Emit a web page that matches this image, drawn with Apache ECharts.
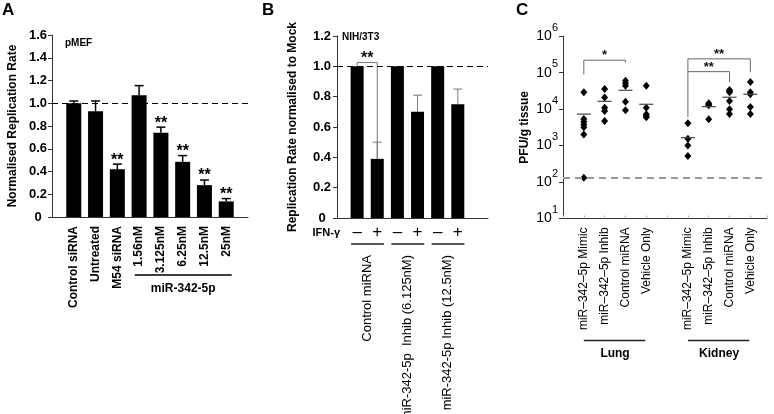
<!DOCTYPE html>
<html><head><meta charset="utf-8">
<script src="https://cdn.jsdelivr.net/npm/echarts@6/dist/echarts.min.js"></script>
<style>html,body{margin:0;padding:0;background:#fff}#c{width:774px;height:414px}</style>
</head><body><div id="c"></div>
<script>
// ---------- Panel A data ----------
const catsA = ['Control siRNA', 'Untreated', 'M54 siRNA', '1.56nM', '3.125nM', '6.25nM', '12.5nM', '25nM'];
const valsA = [1.0, 0.93, 0.42, 1.07, 0.74, 0.485, 0.28, 0.137];
const errA = [0.02, 0.09, 0.045, 0.085, 0.05, 0.055, 0.045, 0.025];
const starsA = ['', '', '**', '', '**', '**', '**', '**'];
const groupA = { label: 'miR-342-5p', first: 4, last: 8 };
const refLineA = 1.0;

// ---------- Panel B data ----------
const signsB = ['\u2013', '+', '\u2013', '+', '\u2013', '+'];
const valsB = [1.0, 0.39, 1.0, 0.70, 1.0, 0.75];
const errB = [0, 0.11, 0, 0.11, 0, 0.10];
const pairsB = ['Control miRNA', 'miR-342-5p  Inhib (6.125nM)', 'miR-342-5p Inhib (12.5nM)'];
const bracketB = { from: 1, to: 2, level: 1.025, stars: '**' };
const refLineB = 1.0;

// ---------- Panel C data ----------
const catsC = ['miR\u2013342\u20135p Mimic', 'miR\u2013342\u20135p Inhib', 'Control miRNA', 'Vehicle Only',
               'miR\u2013342\u20135p Mimic', 'miR\u2013342\u20135p Inhib', 'Control miRNA', 'Vehicle Only'];
const posC = [1, 2, 3, 4, 6, 7, 8, 9];
const lungMimic = [29000, 5400, 4500, 3800, 3200, 2000, 130];
const lungInhib = [36000, 21000, 11000, 8900, 4700];
const lungControl = [60000, 51000, 44000, 16000, 9300];
const lungVehicle = [44000, 11000, 7200, 6500, 6000];
const kidneyMimic = [4100, 1550, 1000, 520];
const kidneyInhib = [14500, 13500, 12800, 5300];
const kidneyControl = [33600, 31000, 29000, 16700, 9900, 7400];
const kidneyVehicle = [55700, 29000, 25600, 11500, 7400];
const pointsC = [lungMimic, lungInhib, lungControl, lungVehicle, kidneyMimic, kidneyInhib, kidneyControl, kidneyVehicle];
const meansC = [7300, 16400, 33000, 13600, 1650, 11700, 21200, 25600];
const groupsC = [{ label: 'Lung', first: 1, last: 4 }, { label: 'Kidney', first: 6, last: 9 }];
const bracketsC = [
  { from: 1, to: 3, top: 2.2e5, leftEnd: 9.0e4, rightEnd: 1.9e5, stars: '*' },
  { from: 6, to: 9, top: 2.4e5, leftEnd: 6.0e3, rightEnd: 1.03e5, stars: '**' },
  { from: 6, to: 8, top: 1.07e5, leftEnd: 1.07e5, rightEnd: 5.5e4, stars: '**' }
];
const detectionLimitC = 130;

// ---------- rendering ----------
const FONT = 'Liberation Sans, Arial, sans-serif';
const chart = echarts.init(document.getElementById('c'), null, { renderer: 'canvas' });

function errBarRender(color, width) {
  return function (params, api) {
    const x = api.value(0), lo = api.value(1), hi = api.value(2);
    if (!(hi > lo)) return null;
    const b = api.coord([x, lo]), t = api.coord([x, hi]);
    return { type: 'group', children: [
      { type: 'line', shape: { x1: b[0], y1: b[1], x2: t[0], y2: t[1] }, style: { stroke: color, lineWidth: width } },
      { type: 'line', shape: { x1: t[0] - 4.5, y1: t[1], x2: t[0] + 4.5, y2: t[1] }, style: { stroke: color, lineWidth: width } }
    ] };
  };
}
function starRender(labels, size, weight, color, dy) {
  return function (params, api) {
    const s = labels[params.dataIndex];
    if (!s) return null;
    const p = api.coord([api.value(0), api.value(1)]);
    return { type: 'text', x: p[0], y: p[1] + dy,
      style: { text: s, fontSize: size, fontWeight: weight, fontFamily: FONT, fill: color, align: 'center', verticalAlign: 'middle' } };
  };
}
function bracketRender(color, labels, starSize, starDy) {
  return function (params, api) {
    const x1 = api.value(0), x2 = api.value(1), top = api.value(2), le = api.value(3), re = api.value(4);
    const a = api.coord([x1, le]), b = api.coord([x1, top]), c = api.coord([x2, top]), d = api.coord([x2, re]);
    const m = api.coord([(x1 + x2) / 2, top]);
    return { type: 'group', children: [
      { type: 'polyline', shape: { points: [a, b, c, d] }, style: { stroke: color, lineWidth: 1, fill: null } },
      { type: 'text', x: m[0], y: m[1] + starDy, style: { text: labels[params.dataIndex], fontSize: starSize, fontWeight: 'bold', fontFamily: FONT, fill: '#111', align: 'center', verticalAlign: 'middle' } }
    ] };
  };
}

const axisLineStyle = { show: true, lineStyle: { color: '#333', width: 1 } };
const baseY = {
  type: 'value', splitLine: { show: false },
  axisLine: axisLineStyle,
  axisTick: { show: true, length: 4, lineStyle: { color: '#333' } },
  nameLocation: 'middle', nameRotate: 90,
  nameTextStyle: { fontSize: 12, fontWeight: 'bold', fontFamily: FONT, color: '#000' }
};

const scatterData = [];
pointsC.forEach((arr, i) => arr.forEach(v => scatterData.push([posC[i], v])));

const option = {
  animation: false,
  backgroundColor: '#fff',
  textStyle: { fontFamily: FONT },
  grid: [
    { left: 52, top: 35, width: 196, height: 182, outerBoundsMode: 'none', containLabel: false },
    { left: 337, top: 36, width: 151, height: 182, outerBoundsMode: 'none', containLabel: false },
    { left: 563, top: 36.3, width: 204, height: 182.1, outerBoundsMode: 'none', containLabel: false }
  ],
  xAxis: [
    { gridIndex: 0, type: 'value', min: 0, max: 9, interval: 1, splitLine: { show: false },
      axisLine: axisLineStyle, axisTick: { show: false },
      axisLabel: { rotate: 90, margin: 9, fontSize: 12, fontWeight: 'bold', color: '#000', fontFamily: FONT,
        formatter: v => (Number.isInteger(v) && catsA[v - 1]) ? catsA[v - 1] : '' } },
    { gridIndex: 1, type: 'value', min: 0, max: 7.5, interval: 0.5, splitLine: { show: false },
      axisLine: axisLineStyle, axisTick: { show: false },
      axisLabel: { margin: 6, fontSize: 17, color: '#000', fontFamily: FONT,
        formatter: v => (Number.isInteger(v) && signsB[v - 1]) ? signsB[v - 1] : '' } },
    { gridIndex: 2, type: 'value', min: 0, max: 9.8, interval: 1, splitLine: { show: false },
      axisLine: axisLineStyle, axisTick: { show: true, inside: true, length: 3, lineStyle: { color: '#bbb' } },
      axisLabel: { rotate: 90, margin: 9, fontSize: 12, color: '#000', fontFamily: FONT,
        formatter: v => { const i = posC.indexOf(v); return i >= 0 ? catsC[i] : ''; } } }
  ],
  yAxis: [
    Object.assign({}, baseY, { gridIndex: 0, min: 0, max: 1.6, interval: 0.2,
      name: 'Normalised Replication Rate', nameGap: 33,
      axisLabel: { fontSize: 13, fontWeight: 'bold', color: '#000', fontFamily: FONT, align: 'center', margin: 14,
        formatter: v => v === 0 ? '0' : v.toFixed(1) } }),
    Object.assign({}, baseY, { gridIndex: 1, min: 0, max: 1.2, interval: 0.2,
      name: 'Replication Rate normalised to Mock', nameGap: 38,
      axisLabel: { fontSize: 13, fontWeight: 'bold', color: '#000', fontFamily: FONT, align: 'center', margin: 15,
        formatter: v => v === 0 ? '0' : v.toFixed(1) } }),
    Object.assign({}, baseY, { gridIndex: 2, type: 'log', logBase: 10, min: 10, max: 1e6,
      name: 'PFU/g tissue', nameGap: 32,
      axisLabel: { margin: 5, color: '#000', fontFamily: FONT,
        formatter: v => '{b|10}{s|' + Math.round(Math.log10(v)) + '}',
        rich: { b: { fontSize: 14, color: '#000', fontFamily: FONT }, s: { fontSize: 11, color: '#000', fontFamily: FONT, padding: [0, 0, 17, 0] } } } })
  ],
  series: [
    // Panel A
    { type: 'bar', xAxisIndex: 0, yAxisIndex: 0, barWidth: 15, itemStyle: { color: '#000' },
      data: valsA.map((v, i) => [i + 1, v]),
      markLine: { silent: true, symbol: 'none', label: { show: false },
        lineStyle: { color: '#000', type: [6, 4], width: 1 }, data: [{ yAxis: refLineA }] } },
    { type: 'custom', xAxisIndex: 0, yAxisIndex: 0, z: 3, renderItem: errBarRender('#000', 1.5),
      data: valsA.map((v, i) => [i + 1, v, v + errA[i]]) },
    { type: 'custom', xAxisIndex: 0, yAxisIndex: 0, z: 4, renderItem: starRender(starsA, 16, 'bold', '#000', -4),
      data: valsA.map((v, i) => [i + 1, v + errA[i]]) },
    // Panel B
    { type: 'bar', xAxisIndex: 1, yAxisIndex: 1, barWidth: 13, itemStyle: { color: '#000' },
      data: valsB.map((v, i) => [i + 1, v]),
      markLine: { silent: true, symbol: 'none', label: { show: false },
        lineStyle: { color: '#000', type: [6, 4], width: 1 }, data: [{ yAxis: refLineB }] } },
    { type: 'custom', xAxisIndex: 1, yAxisIndex: 1, z: 3, renderItem: errBarRender('#777', 1),
      data: valsB.map((v, i) => [i + 1, v, v + errB[i]]) },
    { type: 'custom', xAxisIndex: 1, yAxisIndex: 1, z: 3, renderItem: bracketRender('#777', [bracketB.stars], 16, -4),
      data: [[bracketB.from, bracketB.to, bracketB.level, valsB[bracketB.from - 1], valsB[bracketB.to - 1]]] },
    // Panel C
    { type: 'scatter', xAxisIndex: 2, yAxisIndex: 2, symbol: 'diamond', symbolSize: [7, 8],
      itemStyle: { color: '#000', opacity: 1 }, data: scatterData,
      markLine: { silent: true, symbol: 'none', label: { show: false },
        lineStyle: { color: '#999', type: [7, 5], width: 2 }, data: [{ yAxis: detectionLimitC }] } },
    { type: 'custom', xAxisIndex: 2, yAxisIndex: 2, z: 3,
      renderItem: function (params, api) {
        const p = api.coord([api.value(0), api.value(1)]);
        return { type: 'line', shape: { x1: p[0] - 7, y1: p[1], x2: p[0] + 7, y2: p[1] }, style: { stroke: '#444', lineWidth: 1.2 } };
      },
      data: meansC.map((m, i) => [posC[i], m]) },
    { type: 'custom', xAxisIndex: 2, yAxisIndex: 2, z: 3,
      renderItem: bracketRender('#666', bracketsC.map(b => b.stars), 13, -4.5),
      data: bracketsC.map(b => [b.from, b.to, b.top, b.leftEnd, b.rightEnd]) }
  ]
};
chart.setOption(option);

// ---------- annotations positioned from the axes ----------
const px = (g, x, y) => chart.convertToPixel({ gridIndex: g }, [x, y]);
const g = [];
function txt(x, y, text, size, weight, extra) {
  g.push(Object.assign({ type: 'text', x: x, y: y, silent: true,
    style: Object.assign({ text: text, fontSize: size, fontWeight: weight, fontFamily: FONT, fill: '#000', align: 'left', verticalAlign: 'middle' }, (extra && extra.style) || {}) },
    extra && extra.rotation ? { rotation: extra.rotation } : {}));
}
function ln(x1, y1, x2, y2, color, w) {
  g.push({ type: 'line', silent: true, shape: { x1, y1, x2, y2 }, style: { stroke: color, lineWidth: w } });
}
// panel letters
txt(2, 10, 'A', 17, 'bold');
txt(262, 10, 'B', 17, 'bold');
txt(516, 10, 'C', 17, 'bold');

// Panel A annotations
const a0 = px(0, 0, 1.6);
txt(a0[0] + 13, a0[1] + 8, 'pMEF', 10, 'bold');
const gA1 = px(0, groupA.first - 0.2, 0), gA2 = px(0, groupA.last + 0.25, 0);
ln(gA1[0], gA1[1] + 58, gA2[0], gA1[1] + 58, '#000', 1.5);
txt((gA1[0] + gA2[0]) / 2, gA1[1] + 72, groupA.label, 12, 'bold', { style: { align: 'center' } });

// Panel B annotations
const b0 = px(1, 0, 1.2);
txt(b0[0] + 5, b0[1] + 1, 'NIH/3T3', 10, 'bold');
const bOrigin = px(1, 0, 0);
txt(bOrigin[0] + 3, bOrigin[1] + 15, 'IFN-\u03b3', 11, 'bold', { style: { align: 'right' } });
pairsB.forEach((lab, i) => {
  const x1 = 2 * i + 1, x2 = 2 * i + 2;
  const p1 = px(1, x1 - 0.3, 0), p2 = px(1, x2 + 0.33, 0), pm = px(1, (x1 + x2) / 2, 0);
  ln(p1[0], p1[1] + 26, p2[0], p1[1] + 26, '#222', 1.3);
  txt(pm[0], pm[1] + 37, lab, 13, 'normal', { rotation: Math.PI / 2, style: { align: 'right' } });
});

// Panel C annotations
groupsC.forEach(gr => {
  const p1 = px(2, gr.first, 10), p2 = px(2, gr.last - 0.05, 10), pm = px(2, (gr.first + gr.last) / 2, 10);
  ln(p1[0], p1[1] + 122, p2[0], p1[1] + 122, '#222', 1.5);
  txt(pm[0], pm[1] + 135, gr.label, 12, 'bold', { style: { align: 'center' } });
});

chart.setOption({ graphic: g });
</script>
</body></html>
